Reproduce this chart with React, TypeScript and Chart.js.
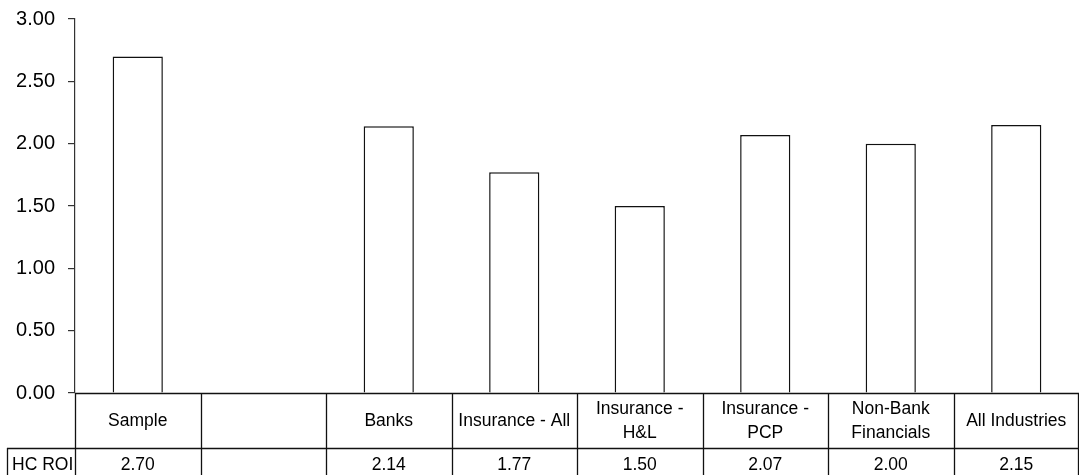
import React, { useEffect, useRef } from "react";
import { Chart, registerables } from "chart.js";

Chart.register(...registerables);

const categories: string[][] = [
  ["Sample"],
  [""],
  ["Banks"],
  ["Insurance - All"],
  ["Insurance -", "H&L"],
  ["Insurance -", "PCP"],
  ["Non-Bank", "Financials"],
  ["All Industries"],
];
const seriesName = "HC ROI";
const hcRoi: (number | null)[] = [2.7, null, 2.14, 1.77, 1.5, 2.07, 2.0, 2.15];
const yMin = 0;
const yMax = 3;
const yStep = 0.5;

const FONT = "'Liberation Sans', Arial, sans-serif";

const tablePlugin = {
  id: "dataTable",
  afterDraw(chart: any) {
    const { ctx, chartArea } = chart;
    const n = categories.length;
    const left = chartArea.left;
    const right = chartArea.right;
    const colW = (right - left) / n;
    const top = Math.round(chartArea.bottom);
    const row1B = top + 55;
    const bottom = chart.height;
    const headerLeft = 7;
    ctx.save();
    ctx.strokeStyle = "#111";
    ctx.lineWidth = 1.3;
    ctx.beginPath();
    ctx.moveTo(left, top + 0.5);
    ctx.lineTo(right, top + 0.5);
    ctx.moveTo(headerLeft, row1B + 0.5);
    ctx.lineTo(right, row1B + 0.5);
    for (let i = 0; i <= n; i++) {
      let x = Math.round(left + i * colW) + 0.5;
      if (i === n) x = Math.round(right) - 0.5;
      ctx.moveTo(x, top);
      ctx.lineTo(x, bottom);
    }
    ctx.moveTo(headerLeft + 0.5, row1B);
    ctx.lineTo(headerLeft + 0.5, bottom);
    ctx.stroke();

    ctx.fillStyle = "#000";
    ctx.font = `17.5px ${FONT}`;
    ctx.textAlign = "center";
    ctx.textBaseline = "middle";
    const lh = 24;
    const rowMid = (top + row1B) / 2 + 1;
    categories.forEach((lines, i) => {
      const cx = left + (i + 0.5) * colW;
      const startY = rowMid - ((lines.length - 1) * lh) / 2;
      lines.forEach((t, j) => ctx.fillText(t, cx, startY + j * lh));
      const v = hcRoi[i];
      if (v !== null && v !== undefined) {
        ctx.fillText(v.toFixed(2), cx, row1B + 17);
      }
    });
    ctx.textAlign = "left";
    ctx.fillText(seriesName, headerLeft + 5, row1B + 17);
    ctx.restore();
  },
};

export default function App() {
  const ref = useRef<HTMLCanvasElement>(null);
  useEffect(() => {
    document.body.style.margin = "0";
    const chart = new Chart(ref.current as HTMLCanvasElement, {
      type: "bar",
      data: {
        labels: categories.map((c) => c.join(" ")),
        datasets: [
          {
            label: seriesName,
            data: hcRoi as any,
            backgroundColor: "#ffffff",
            borderColor: "#111111",
            borderWidth: 1.5,
            barPercentage: 0.4,
            categoryPercentage: 1,
          },
        ],
      },
      options: {
        animation: false,
        responsive: false,
        devicePixelRatio: 1,
        layout: { padding: { top: 19, bottom: 82, left: 0, right: 0 } },
        plugins: { legend: { display: false }, tooltip: { enabled: false } },
        scales: {
          x: { display: false, offset: true },
          y: {
            min: yMin,
            max: yMax,
            afterFit(scale: any) {
              scale.width = 75;
              scale.paddingTop = 0;
              scale.paddingBottom = 0;
            },
            ticks: {
              stepSize: yStep,
              color: "#000",
              padding: 13,
              font: { family: FONT, size: 20 },
              callback: (v: any) => Number(v).toFixed(2),
            },
            grid: {
              drawOnChartArea: false,
              drawTicks: true,
              tickLength: 7,
              color: "#333",
              lineWidth: 1.2,
            },
            border: { display: true, color: "#333", width: 1.2 },
          },
        },
      },
      plugins: [tablePlugin],
    });
    return () => chart.destroy();
  }, []);
  return (
    <div style={{ width: 1079, height: 475, background: "#fff" }}>
      <canvas ref={ref} width={1079} height={475} />
    </div>
  );
}
